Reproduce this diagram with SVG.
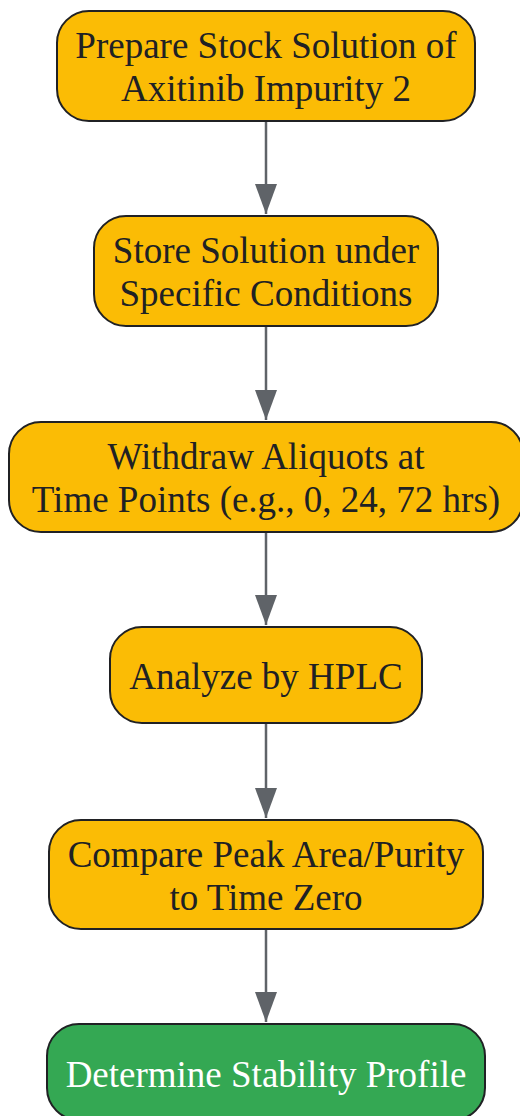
<svg xmlns="http://www.w3.org/2000/svg" width="520" height="1116" viewBox="0 0 520 1116">
<style>
.n{fill:#FBBC05;stroke:#202124;stroke-width:2}
.g{fill:#34A853;stroke:#202124;stroke-width:2}
.t{font-family:"Liberation Serif",serif;font-size:37px;fill:#202124;text-anchor:middle}
.w{fill:#FFFFFF}
.e{stroke:#5F6368;stroke-width:2.5;fill:none}
</style>
<defs>
<marker id="ah" markerUnits="userSpaceOnUse" markerWidth="32" markerHeight="24" refX="30" refY="11" orient="auto">
<path d="M0,0 L30,11 L0,22 Z" fill="#5F6368"/>
</marker>
</defs>
<g id="edges">
<path class="e" d="M266,121 V214" marker-end="url(#ah)"/>
<path class="e" d="M266,326 V420" marker-end="url(#ah)"/>
<path class="e" d="M266,532 V625" marker-end="url(#ah)"/>
<path class="e" d="M266,723 V818" marker-end="url(#ah)"/>
<path class="e" d="M266,929 V1022" marker-end="url(#ah)"/>
</g>
<g id="n1">
<rect class="n" x="57" y="11" width="418" height="110" rx="32"/>
<text class="t" x="266" y="58">Prepare Stock Solution of</text>
<text class="t" x="266" y="101">Axitinib Impurity 2</text>
</g>
<g id="n2">
<rect class="n" x="94" y="216" width="344" height="110" rx="32"/>
<text class="t" x="266" y="263">Store Solution under</text>
<text class="t" x="266" y="306">Specific Conditions</text>
</g>
<g id="n3">
<rect class="n" x="9" y="422" width="514" height="110" rx="32"/>
<text class="t" x="266" y="469">Withdraw Aliquots at</text>
<text class="t" x="266" y="512">Time Points (e.g., 0, 24, 72 hrs)</text>
</g>
<g id="n4">
<rect class="n" x="110" y="627" width="312" height="96" rx="32"/>
<text class="t" x="266" y="689">Analyze by HPLC</text>
</g>
<g id="n5">
<rect class="n" x="49" y="820" width="434" height="109" rx="32"/>
<text class="t" x="266" y="867">Compare Peak Area/Purity</text>
<text class="t" x="266" y="910">to Time Zero</text>
</g>
<g id="n6">
<rect class="g" x="47" y="1024" width="438" height="96" rx="32"/>
<text class="t w" x="266" y="1087">Determine Stability Profile</text>
</g>
</svg>
